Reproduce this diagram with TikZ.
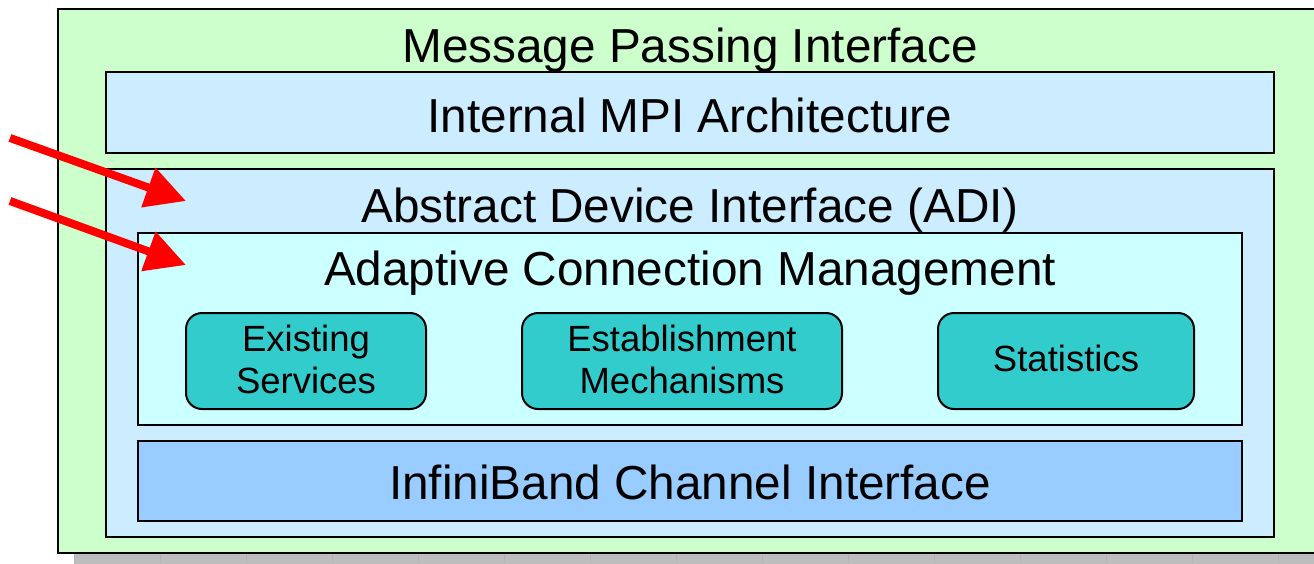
\documentclass[tikz,border=0pt]{standalone}
\usepackage{fontspec}
\setmainfont{Liberation Sans}
\usetikzlibrary{arrows.meta}
\definecolor{mpigreen}{HTML}{CCFFCC}
\definecolor{archblue}{HTML}{CCECFF}
\definecolor{acmcyan}{HTML}{CCFFFF}
\definecolor{svcteal}{HTML}{33CCCC}
\definecolor{ibblue}{HTML}{99CCFF}
\definecolor{shadowgray}{HTML}{BDBDBD}
\tikzset{
  layer/.style={draw=black, line width=2.6pt, inner sep=0pt},
  module/.style={draw=black, line width=2pt, rounded corners=16pt, fill=svcteal, inner sep=0pt},
  bigtext/.style={anchor=base, inner sep=0pt, font=\fontsize{47.7}{52}\selectfont},
  smalltext/.style={anchor=base, inner sep=0pt, align=center, font=\fontsize{36.5}{42}\selectfont},
  pointer/.style={draw=red, line width=8pt, -{Triangle[length=40pt,width=40pt]}}
}
\begin{document}
\begin{tikzpicture}[x=1pt,y=-1pt]
  \useasboundingbox (0,0) rectangle (1314,563);
  \clip (0,0) rectangle (1314,563);
  % drop shadow under the outer frame
  \fill[shadowgray] (74,553) rectangle (1330,570);
  \foreach \gx in {74,160,246,332,418,504,590,676,762,848,934,1020,1106,1192,1278}
    \draw[gray!60, line width=0.6pt] (\gx,554) -- (\gx,563);
  % outer frame
  \draw[layer, fill=mpigreen] (58,9) rectangle (1330,553);
  \node[bigtext] (mpi) at (690,62) {Message Passing Interface};
  % internal architecture
  \node[layer, fill=archblue, minimum width=1168pt, minimum height=81pt] (arch) at (690,112.5) {};
  \node[bigtext] (archlbl) at (690,132) {Internal MPI Architecture};
  % abstract device interface
  \node[layer, fill=archblue, minimum width=1168pt, minimum height=368pt] (adi) at (690,353) {};
  \node[bigtext] (adilbl) at (690,222) {Abstract Device Interface (ADI)};
  % adaptive connection management
  \node[layer, fill=acmcyan, minimum width=1104pt, minimum height=192pt] (acm) at (690,329) {};
  \node[bigtext] (acmlbl) at (690,285) {Adaptive Connection Management};
  % modules
  \node[module, minimum width=240pt, minimum height=96pt] (exist) at (306,361) {};
  \node[smalltext] (existlbl) at (306,393) {Existing\\Services};
  \node[module, minimum width=320pt, minimum height=96pt] (estab) at (682,361) {};
  \node[smalltext] (establbl) at (682,393) {Establishment\\Mechanisms};
  \node[module, minimum width=256pt, minimum height=96pt] (stats) at (1066,361) {};
  \node[smalltext] (statslbl) at (1066,371) {Statistics};
  % infiniband channel interface
  \node[layer, fill=ibblue, minimum width=1104pt, minimum height=80pt] (ib) at (690,481) {};
  \node[bigtext] (iblbl) at (690,499) {InfiniBand Channel Interface};
  % red pointers
  \coordinate (p1s) at (10,138);
  \coordinate (p1e) at (186,201);
  \coordinate (p2s) at (10,201);
  \coordinate (p2e) at (186,265);
  \draw[pointer] (p1s) -- (p1e);
  \draw[pointer] (p2s) -- (p2e);
\end{tikzpicture}
\end{document}
